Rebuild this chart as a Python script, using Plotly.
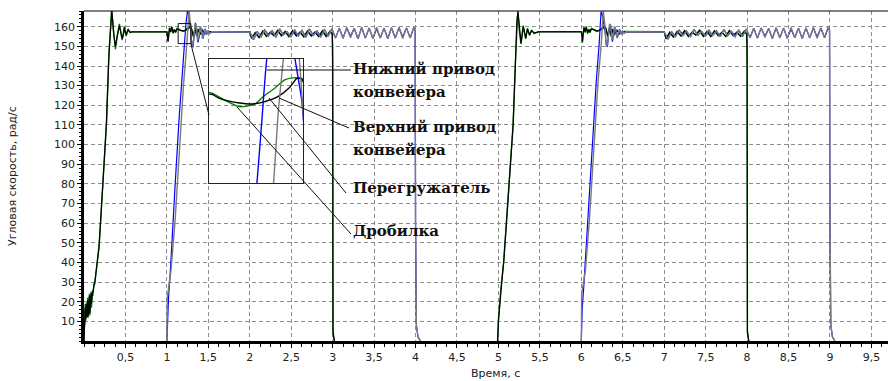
import plotly.graph_objects as go

# ---------------- data ----------------
# time grids of the oscillating segments
W1 = [2.000, 2.045, 2.090, 2.135, 2.180, 2.225, 2.270, 2.315, 2.360, 2.405,
      2.450, 2.495, 2.540, 2.585, 2.630, 2.675, 2.720, 2.765, 2.810, 2.855,
      2.900, 2.945, 2.990, 3.035, 3.080, 3.125, 3.170, 3.215, 3.260, 3.305,
      3.350, 3.395, 3.440, 3.485, 3.530, 3.575, 3.620, 3.665, 3.710, 3.755,
      3.800, 3.845, 3.890, 3.935, 3.980]
W2 = [7.000, 7.045, 7.090, 7.135, 7.180, 7.225, 7.270, 7.315, 7.360, 7.405,
      7.450, 7.495, 7.540, 7.585, 7.630, 7.675, 7.720, 7.765, 7.810, 7.855,
      7.900, 7.945, 7.990, 8.035, 8.080, 8.125, 8.170, 8.215, 8.260, 8.305,
      8.350, 8.395, 8.440, 8.485, 8.530, 8.575, 8.620, 8.665, 8.710, 8.755,
      8.800, 8.845, 8.890, 8.935, 8.980]
WB1 = [2.022, 2.067, 2.112, 2.157, 2.202, 2.247, 2.292, 2.337, 2.382, 2.427, 2.472,
       2.517, 2.562, 2.607, 2.652, 2.697, 2.742, 2.787, 2.832, 2.877, 2.922, 2.967]
WB2 = [7.022, 7.067, 7.112, 7.157, 7.202, 7.247, 7.292, 7.337, 7.382, 7.427, 7.472,
       7.517, 7.562, 7.607, 7.652, 7.697, 7.742, 7.787, 7.832, 7.877, 7.922, 7.967]
NOISE_T = [0.000, 0.005, 0.010, 0.015, 0.020, 0.025, 0.030, 0.035, 0.040, 0.045,
           0.050, 0.055, 0.060, 0.065, 0.070, 0.075, 0.080, 0.085, 0.090, 0.095,
           0.100, 0.105, 0.110, 0.115, 0.120]
GAP = [None]   # break between the two runs (the drives stand still in between)

# --- Верхний привод конвейера (black) ---
BLACK_T = (NOISE_T +
    [0.13, 0.16, 0.18, 0.22, 0.27, 0.30, 0.32, 0.336, 0.36, 0.379, 0.40, 0.427, 0.445, 0.46,
     0.475, 0.487, 0.50, 0.511, 0.522, 0.532, 0.555, 0.58, 1.0,
     1.008, 1.014, 1.022, 1.032, 1.046, 1.06, 1.076, 1.09, 1.105, 1.12, 1.13, 1.141, 1.151,
     1.167, 1.183, 1.206, 1.227, 1.248, 1.268, 1.279, 1.287,
     1.30, 1.32, 1.34, 1.36, 1.38, 1.40, 1.43, 1.46, 1.50, 2.0]
    + WB1 + [2.995, 3.0, 3.004, 3.02] + GAP +
    [4.99, 5.0, 5.03, 5.063, 5.10, 5.14, 5.176, 5.204, 5.222, 5.236, 5.255, 5.273, 5.30, 5.33,
     5.35, 5.376, 5.40, 5.43, 5.485, 6.0,
     6.008, 6.014, 6.022, 6.032, 6.046, 6.06, 6.076, 6.09, 6.105, 6.12, 6.141, 6.167, 6.19,
     6.215, 6.24, 6.265, 6.28, 6.29,
     6.30, 6.32, 6.34, 6.36, 6.38, 6.40, 6.43, 6.46, 6.50, 7.0]
    + WB2 + [7.995, 8.0, 8.004, 8.02])
BLACK_V = ([0, 14, 9, 17, 11, 19, 12, 18, 13, 21, 12, 20, 15, 23, 14, 22, 17, 24, 19, 21,
            25, 23, 27, 24, 29] +
    [30, 40, 47, 75, 110, 145, 162, 168, 156, 150, 155, 160.5, 157, 154, 156, 159.5, 157,
     156, 157.5, 158.3, 157.2, 157.3, 157.3,
     155.2, 152.8, 156.0, 159.2, 157.4, 159.8, 156.8, 158.4, 157.2, 158.8, 158.7, 158.7,
     158.4, 158.15, 158.0, 157.9, 158.1, 158.5, 159.3, 160.0, 160.0,
     158.3, 155.2, 159.0, 155.6, 158.6, 156.2, 158.1, 156.6, 157.5, 157.5] +
    [154.0, 156.8, 154.6, 157.6, 155.0, 157.2, 155.4, 158.0, 155.6, 157.4, 155.1,
     157.9, 155.3, 157.3, 154.8, 157.7, 155.5, 157.1, 154.9, 157.8, 155.2, 157.4] +
    [156.5, 150, 5, 0] + GAP +
    [0, 10, 25, 40, 62, 85, 109, 140, 163, 167.5, 158, 151.6, 160.1, 154.2, 158.8, 155.9,
     158.0, 156.8, 157.4, 157.4,
     155.4, 152.6, 156.2, 159.4, 157.5, 159.7, 156.9, 158.5, 157.3, 158.7, 158.6, 158.1,
     157.9, 158.0, 158.4, 159.2, 159.9, 159.8,
     158.2, 155.4, 158.9, 155.7, 158.5, 156.3, 158.0, 156.7, 157.4, 157.4] +
    [153.8, 157.0, 154.8, 157.4, 155.2, 157.9, 155.0, 157.3, 155.7, 158.1, 155.2,
     157.5, 154.9, 157.8, 155.6, 157.2, 155.0, 157.9, 155.4, 157.3, 155.1, 157.6] +
    [156.4, 150, 5, 0])

# --- Дробилка (green) ---
GREEN_T = (NOISE_T +
    [0.13, 0.16, 0.185, 0.225, 0.272, 0.30, 0.318, 0.333, 0.355, 0.379, 0.40, 0.427, 0.445,
     0.46, 0.475, 0.487, 0.50, 0.511, 0.522, 0.532, 0.555, 0.58, 1.0,
     1.008, 1.014, 1.022, 1.032, 1.046, 1.06, 1.076, 1.09, 1.105, 1.12, 1.13, 1.141, 1.162,
     1.183, 1.195, 1.211, 1.224, 1.243, 1.26, 1.273, 1.284,
     1.30, 1.32, 1.34, 1.36, 1.38, 1.40, 1.43, 1.46, 1.50, 2.0]
    + WB1 + [2.995, 3.0, 3.004, 3.02] + GAP +
    [4.99, 5.0, 5.03, 5.065, 5.10, 5.14, 5.178, 5.205, 5.222, 5.234, 5.254, 5.272, 5.298, 5.328,
     5.35, 5.375, 5.40, 5.43, 5.485, 6.0,
     6.008, 6.014, 6.022, 6.032, 6.046, 6.06, 6.076, 6.09, 6.105, 6.12, 6.141, 6.162, 6.183,
     6.195, 6.211, 6.224, 6.243, 6.26, 6.273, 6.284,
     6.30, 6.32, 6.34, 6.36, 6.38, 6.40, 6.43, 6.46, 6.50, 7.0]
    + WB2 + [7.995, 8.0, 8.004, 8.02])
GREEN_V = ([0, 16, 8, 19, 10, 18, 13, 20, 12, 22, 14, 19, 16, 24, 13, 21, 18, 25, 17, 23,
            24, 26, 25, 27, 28] +
    [29, 41, 50, 78, 112, 146, 161, 169, 158, 148.5, 155, 161.5, 157, 153.2, 156.5, 160.2,
     157, 155.3, 157.6, 158.9, 157, 157.4, 157.4,
     155.0, 152.3, 155.8, 159.6, 157.2, 160.1, 156.6, 158.7, 157.0, 159.0, 158.9, 158.8,
     158.2, 157.7, 157.7, 157.9, 158.5, 159.2, 159.9, 160.05, 160.0,
     158.8, 154.8, 159.4, 155.2, 158.9, 155.9, 158.3, 156.4, 157.5, 157.5] +
    [154.3, 157.1, 154.4, 157.9, 155.3, 157.0, 155.7, 158.2, 155.3, 157.7, 154.9,
     158.1, 155.6, 157.0, 155.1, 157.9, 155.2, 157.4, 155.2, 158.0, 154.9, 157.6] +
    [156.3, 140, 4, 0] + GAP +
    [0, 11, 27, 41, 63, 86, 111, 142, 164, 168.2, 157, 151.2, 160.6, 153.8, 159.2, 155.5,
     158.3, 156.6, 157.5, 157.5,
     155.1, 151.8, 156.1, 159.8, 157.0, 160.2, 156.4, 158.8, 156.9, 159.1, 158.8, 158.1,
     157.6, 157.8, 158.0, 158.6, 159.3, 159.9, 160.1, 160.0,
     158.9, 154.6, 159.5, 155.0, 159.0, 155.8, 158.4, 156.3, 157.6, 157.5] +
    [154.1, 157.3, 154.6, 157.7, 155.4, 158.1, 155.2, 157.1, 155.9, 158.3, 155.0,
     157.7, 155.2, 158.0, 155.4, 157.0, 155.2, 158.1, 155.6, 157.1, 155.3, 157.8] +
    [156.2, 140, 4, 0])

# --- Перегружатель (grey) ---
GREY_T = ([1.0, 1.004, 1.05, 1.10, 1.15, 1.20, 1.241, 1.249, 1.257, 1.268, 1.283, 1.295,
           1.31, 1.325, 1.34, 1.355, 1.37, 1.385, 1.40, 1.415, 1.43, 1.445, 1.46, 1.475,
           1.495, 1.515, 1.54]
    + W1 + [3.995, 4.0, 4.003, 4.01, 4.03, 4.06] + GAP +
    [6.0, 6.004, 6.05, 6.10, 6.15, 6.20, 6.241, 6.249, 6.257, 6.265, 6.283, 6.295, 6.31,
     6.325, 6.34, 6.355, 6.37, 6.385, 6.40, 6.415, 6.43, 6.445, 6.46, 6.475, 6.495, 6.515,
     6.54]
    + W2 + [8.995, 9.0, 9.003, 9.01, 9.03, 9.06])
GREY_V = ([0, 22, 36, 62, 96, 130, 151.4, 157.4, 161.6, 168, 161.6, 153.5, 150, 154,
           161.5, 160.5, 153, 154.5, 160, 158.5, 154, 156, 159, 156, 158, 156.5, 157.5] +
    [157.3, 153.4, 157.6, 154.8, 158.4, 155.2, 157.9, 154.6, 158.9, 155.8,
     157.4, 154.9, 158.6, 155.3, 158.1, 154.7, 158.8, 155.6, 157.8, 154.5,
     158.5, 155.2, 158.9, 154.3, 159.3, 154.1, 159.5, 154.4, 159.2, 153.9,
     159.6, 154.2, 159.4, 154.0, 159.7, 154.3, 159.3, 153.9, 159.5, 154.2,
     159.6, 154.0, 159.4, 154.3, 159.8] +
    [158, 60, 31, 8, 2, 0] + GAP +
    [0, 24, 36, 63, 97, 131, 151.6, 157.3, 161.8, 168, 161.4, 153.3, 150.3, 154.2, 161.2,
     160.7, 153.2, 154.3, 160.2, 158.3, 154.2, 156.1, 158.8, 156.2, 157.9, 156.6, 157.4] +
    [157.3, 153.6, 157.4, 155.0, 158.2, 155.4, 157.7, 154.8, 158.7, 155.6,
     157.6, 155.1, 158.4, 155.5, 157.9, 154.9, 158.6, 155.4, 157.6, 154.7,
     158.3, 155.0, 158.8, 154.4, 159.2, 154.2, 159.4, 154.5, 159.1, 154.0,
     159.5, 154.3, 159.3, 154.1, 159.6, 154.4, 159.2, 154.0, 159.4, 154.3,
     159.5, 154.1, 159.3, 154.4, 159.7] +
    [158, 60, 31, 8, 2, 0])

# --- Нижний привод конвейера (blue) ---
BLUE_T = ([1.0, 1.01, 1.02, 1.045, 1.06, 1.10, 1.15, 1.18, 1.214, 1.222, 1.230, 1.248,
           1.262, 1.276, 1.287, 1.30, 1.315, 1.33, 1.345, 1.36, 1.375, 1.39, 1.405, 1.42,
           1.435, 1.45, 1.465, 1.48, 1.50, 1.52, 1.55]
    + W1 + [3.995, 4.0, 4.003, 4.01, 4.03, 4.06] + GAP +
    [6.0, 6.005, 6.01, 6.03, 6.065, 6.10, 6.15, 6.18, 6.214, 6.222, 6.23, 6.238, 6.25,
     6.275, 6.287, 6.30, 6.315, 6.33, 6.345, 6.36, 6.375, 6.39, 6.405, 6.42, 6.435, 6.45,
     6.465, 6.48, 6.50, 6.52, 6.55]
    + W2 + [8.995, 9.0, 9.003, 9.01, 9.03, 9.06])
BLUE_V = ([0, 14, 22, 38, 48, 80, 115, 134, 151.4, 156.5, 161.6, 167.8, 166.5, 161.6,
           158.2, 151, 149.5, 156, 162, 159, 152, 155, 160, 158, 154, 156.5, 158.8, 156,
           157.8, 156.8, 157.3] +
    [157.3, 153.4, 157.6, 154.8, 158.4, 155.9, 157.9, 154.6, 158.9, 155.8,
     157.4, 154.9, 157.8, 155.3, 158.1, 154.7, 158.8, 155.6, 157.8, 155.3,
     158.5, 155.2, 158.9, 154.3, 159.3, 154.1, 159.5, 155.1, 159.2, 153.9,
     159.6, 154.2, 159.4, 154.0, 158.9, 154.3, 159.3, 153.9, 159.5, 154.2,
     159.6, 154.8, 159.4, 154.3, 159.8] +
    [158, 60, 31, 8, 2, 0] + GAP +
    [0, 8, 16, 28, 52, 78, 113, 132, 150.5, 156, 161.2, 167.6, 166.5, 161, 157.8, 150.8,
     149.8, 156.5, 161.5, 158.6, 152.4, 155.3, 159.6, 157.6, 154.3, 156.8, 158.5, 156.2,
     157.6, 157.0, 157.3] +
    [157.3, 153.6, 157.4, 155.0, 158.2, 156.1, 157.7, 154.8, 158.7, 155.6,
     157.6, 155.1, 157.7, 155.5, 157.9, 154.9, 158.6, 155.4, 157.6, 155.4,
     158.3, 155.0, 158.8, 154.4, 159.2, 154.2, 159.4, 155.2, 159.1, 154.0,
     159.5, 154.3, 159.3, 154.1, 158.8, 154.4, 159.2, 154.0, 159.4, 154.3,
     159.5, 154.8, 159.3, 154.4, 159.7] +
    [158, 60, 31, 8, 2, 0])

X_TICKS = [0.5, 1, 1.5, 2, 2.5, 3, 3.5, 4, 4.5, 5, 5.5, 6, 6.5, 7, 7.5, 8, 8.5, 9, 9.5]
X_LABELS = ["0,5", "1", "1,5", "2", "2,5", "3", "3,5", "4", "4,5", "5", "5,5", "6",
            "6,5", "7", "7,5", "8", "8,5", "9", "9,5"]
Y_TICKS = [10, 20, 30, 40, 50, 60, 70, 80, 90, 100, 110, 120, 130, 140, 150, 160]
Y_LABELS = [str(v) for v in Y_TICKS]

X_RANGE = [0, 9.7]
Y_RANGE = [0, 168]
# zoomed window shown in the inset
ZOOM_X = [1.136, 1.289]
ZOOM_Y = [151.4, 161.6]

SERIES = [
    ("Дробилка", GREEN_T, GREEN_V, "#008000", 1.4),
    ("Верхний привод конвейера", BLACK_T, BLACK_V, "#000000", 1.2),
    ("Нижний привод конвейера", BLUE_T, BLUE_V, "#0000ff", 1.2),
    ("Перегружатель", GREY_T, GREY_V, "#7a7a7a", 1.4),
]

# ---------------- layout geometry (pixels of the 888x381 page) ----------------
W, H = 888, 381
L, R, T, B = 84, 0, 11, 40
PW, PH = W - L - R, H - T - B


def px(x):
    return (x - L) / PW


def py(y):
    return (H - B - y) / PH


INSET_DOM_X = [px(209), px(303)]
INSET_DOM_Y = [py(183), py(59)]

fig = go.Figure()
for name, t, v, col, w in SERIES:
    fig.add_trace(go.Scatter(x=t, y=v, mode="lines", name=name, connectgaps=False,
                             line=dict(color=col, width=w), xaxis="x", yaxis="y"))
for name, t, v, col, w in SERIES:
    fig.add_trace(go.Scatter(x=t, y=v, mode="lines", name=name, showlegend=False,
                             connectgaps=False,
                             line=dict(color=col, width=1.4, shape="spline", smoothing=0.6),
                             xaxis="x2", yaxis="y2"))

tickfont = dict(family="DejaVu Sans", size=11, color="#222222")
fig.update_layout(
    width=W, height=H,
    margin=dict(l=L, r=R, t=T, b=B, pad=0),
    paper_bgcolor="white", plot_bgcolor="rgba(0,0,0,0)",
    showlegend=False,
    xaxis=dict(domain=[0, 1], range=X_RANGE, tickmode="array", tickvals=X_TICKS,
               ticktext=X_LABELS, ticks="outside", ticklen=4, tickcolor="black",
               tickfont=tickfont, showline=True, linewidth=2.5, linecolor="black",
               showgrid=True, gridcolor="#8c8c8c", griddash="4px,3px", gridwidth=1,
               zeroline=False,
               minor=dict(tickmode="linear", tick0=0, dtick=0.125, ticks="outside",
                          ticklen=3, tickcolor="black", showgrid=False)),
    yaxis=dict(domain=[0, 1], range=Y_RANGE, tickmode="array", tickvals=Y_TICKS,
               ticktext=Y_LABELS, ticks="outside", ticklen=4, tickcolor="black",
               tickfont=tickfont, showline=True, linewidth=2.5, linecolor="black",
               showgrid=True, gridcolor="#8c8c8c", griddash="4px,3px", gridwidth=1,
               zeroline=False,
               minor=dict(tickmode="linear", tick0=0, dtick=2, ticks="outside",
                          ticklen=2, tickcolor="black", showgrid=False)),
    xaxis2=dict(domain=INSET_DOM_X, range=ZOOM_X, anchor="y2", showticklabels=False,
                ticks="", showgrid=False, zeroline=False, showline=True, mirror=True,
                linecolor="#222222", linewidth=1),
    yaxis2=dict(domain=INSET_DOM_Y, range=ZOOM_Y, anchor="x2", showticklabels=False,
                ticks="", showgrid=False, zeroline=False, showline=True, mirror=True,
                linecolor="#222222", linewidth=1),
)

line_k = dict(color="#111111", width=1)
shapes = [
    dict(type="line", xref="paper", yref="paper", x0=0, x1=1, y0=1, y1=1,
         line=dict(color="black", width=1)),
    dict(type="rect", xref="x", yref="y", x0=ZOOM_X[0], x1=ZOOM_X[1],
         y0=ZOOM_Y[0], y1=ZOOM_Y[1], line=line_k),
    # connector from the zoom window to the inset
    dict(type="line", xref="paper", yref="paper",
         x0=ZOOM_X[1] / X_RANGE[1], y0=ZOOM_Y[0] / Y_RANGE[1],
         x1=INSET_DOM_X[0], y1=py(115), line=line_k),
    # leader lines of the labels
    dict(type="line", xref="paper", yref="paper", x0=px(267), y0=py(70), x1=px(351), y1=py(70), line=line_k),
    dict(type="line", xref="paper", yref="paper", x0=px(279), y0=py(98), x1=px(349), y1=py(128), line=line_k),
    dict(type="line", xref="paper", yref="paper", x0=px(269), y0=py(98), x1=px(346), y1=py(193), line=line_k),
    dict(type="line", xref="paper", yref="paper", x0=px(237), y0=py(107), x1=px(351), y1=py(234), line=line_k),
]
fig.update_layout(shapes=shapes)

lab_font = dict(family="DejaVu Serif", size=15, color="#111111")
labels = [
    ("Нижний привод", 69),
    ("конвейера", 92),
    ("Верхний привод", 127),
    ("конвейера", 150),
    ("Перегружатель", 188),
    ("Дробилка", 231),
]
ann = []
for txt, yy in labels:
    ann.append(dict(text="<b>" + txt + "</b>", xref="paper", yref="paper", x=px(351),
                    y=py(yy), xanchor="left", yanchor="middle", align="left",
                    showarrow=False, font=lab_font))
ann.append(dict(text="Время, с", xref="paper", yref="paper", x=px(495), y=py(373),
                xanchor="center", yanchor="middle", showarrow=False,
                font=dict(family="DejaVu Sans", size=11, color="#222222")))
ann.append(dict(text="Угловая скорость, рад/с", xref="paper", yref="paper", x=px(12),
                y=py(176), xanchor="center", yanchor="middle", textangle=-90,
                showarrow=False, font=dict(family="DejaVu Sans", size=11, color="#222222")))
fig.update_layout(annotations=ann)

fig.write_html("out.html")
